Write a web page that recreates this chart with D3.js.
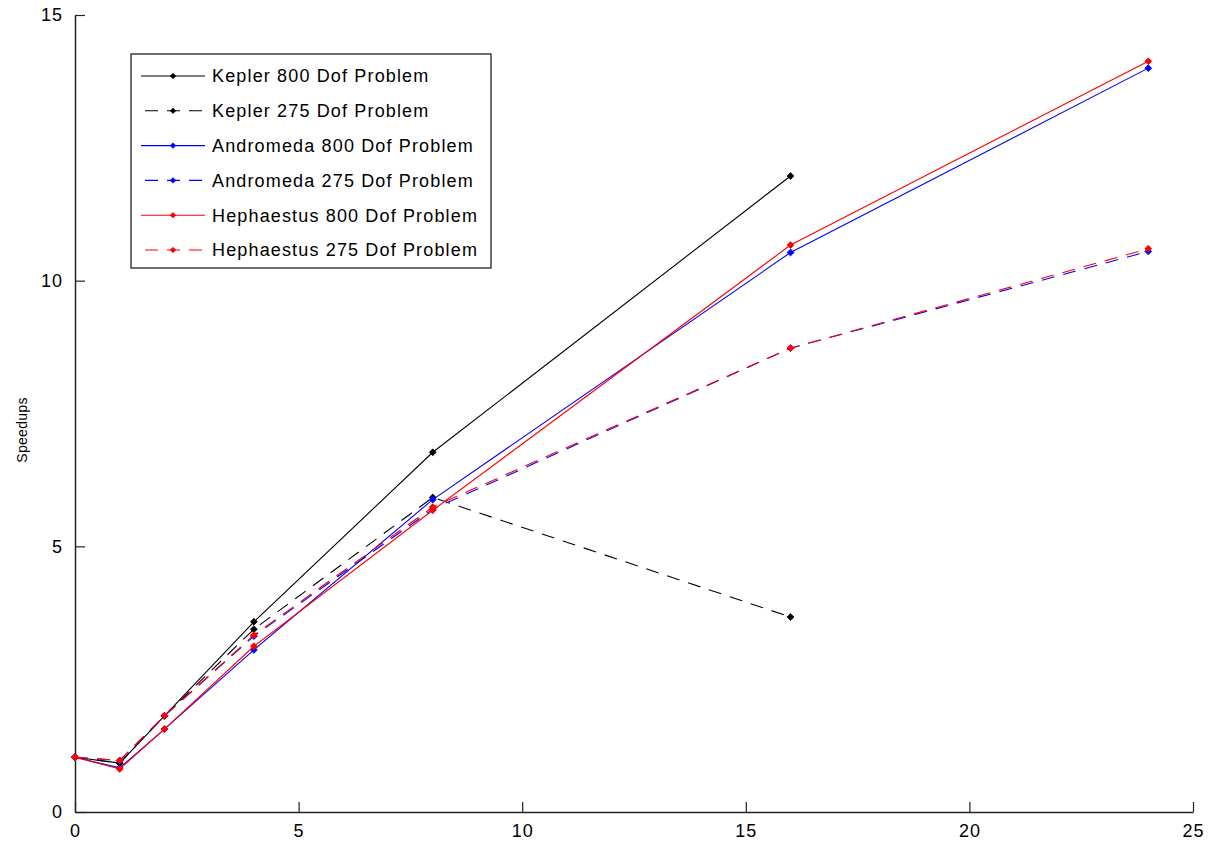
<!DOCTYPE html>
<html>
<head>
<meta charset="utf-8">
<script src="https://cdn.jsdelivr.net/npm/d3@7"></script>
<style>
  body { margin: 0; background: #fff; }
  text { font-family: "Liberation Sans", Arial, sans-serif; fill: #000; }
</style>
</head>
<body>
<div id="container"></div>
<script>
// processors used in the runs
let procsLong = [0, 1, 2, 4, 8, 16, 24];
let procsKepler = [0, 1, 2, 4, 8, 16];

// speedups
let kepler800 = [1.03, 0.92, 1.81, 3.58, 6.77, 11.97];
let kepler275 = [1.03, 0.92, 1.81, 3.44, 5.92, 3.67];
let andromeda800 = [1.03, 0.83, 1.56, 3.05, 5.88, 10.53, 14.0];
let andromeda275 = [1.03, 0.97, 1.81, 3.31, 5.70, 8.73, 10.55];
let hephaestus800 = [1.03, 0.81, 1.56, 3.12, 5.68, 10.67, 14.13];
let hephaestus275 = [1.03, 0.97, 1.81, 3.33, 5.74, 8.73, 10.60];

let seriesNames = [
  "Kepler 800 Dof Problem", "Kepler 275 Dof Problem",
  "Andromeda 800 Dof Problem", "Andromeda 275 Dof Problem",
  "Hephaestus 800 Dof Problem", "Hephaestus 275 Dof Problem"
];
let seriesValues = [kepler800, kepler275, andromeda800, andromeda275, hephaestus800, hephaestus275];
let seriesX = [procsKepler, procsKepler, procsLong, procsLong, procsLong, procsLong];
let seriesColors = ["#000000", "#000000", "#0000ff", "#0000ff", "#ff0000", "#ff0000"];
let seriesDashed = [false, true, false, true, false, true];

let xTicks = [0, 5, 10, 15, 20, 25];
let yTicks = [0, 5, 10, 15];

let w = 1209;
let h = 845;

let viz = d3.select("#container")
  .append("svg")
    .attr("width", w)
    .attr("height", h)
;

let xScale = d3.scaleLinear().domain([0, 25]).range([75, 1193]);
let yScale = d3.scaleLinear().domain([0, 15]).range([812, 15]);

// axes, matlab style: ticks pointing inward, no box
let xAxis = d3.axisBottom(xScale).tickValues(xTicks).tickSizeInner(-10).tickSizeOuter(0).tickPadding(17);
let yAxis = d3.axisLeft(yScale).tickValues(yTicks).tickSizeInner(-10).tickSizeOuter(0).tickPadding(12);

let xAxisGroup = viz.append("g")
    .attr("class", "xaxisgroup")
    .attr("transform", "translate(0," + yScale(0) + ")")
    .call(xAxis);
let yAxisGroup = viz.append("g")
    .attr("class", "yaxisgroup")
    .attr("transform", "translate(" + xScale(0) + ",0)")
    .call(yAxis);

viz.selectAll(".domain").attr("stroke", "#222").attr("stroke-width", 1.5);
viz.selectAll(".tick line").attr("stroke", "#222").attr("stroke-width", 1.2);
viz.selectAll(".tick text")
  .style("font-size", "18px")
  .style("letter-spacing", "1px")
  .style("font-family", "'Liberation Sans', Arial, sans-serif")
  .attr("fill", "#000");
xAxisGroup.selectAll(".tick text").attr("dy", "0.45em");

viz.append("text")
  .attr("transform", "translate(27,430) rotate(-90)")
  .attr("text-anchor", "middle")
  .style("font-size", "14px")
  .style("letter-spacing", "0.3px")
  .text("Speedups");

// lines
let graphGroup = viz.append("g").attr("class", "graphGroup");

let seriesData = seriesNames.map(function(name, i){
  return {
    name: name,
    color: seriesColors[i],
    dashed: seriesDashed[i],
    points: seriesValues[i].map(function(v, j){ return { x: seriesX[i][j], y: v }; })
  };
});

let lineMaker = d3.line()
  .x(function(d){ return xScale(d.x); })
  .y(function(d){ return yScale(d.y); })
;

let marker = d3.symbol().type(d3.symbolDiamond2).size(30);

seriesData.forEach(function(s){
  let g = graphGroup.append("g");
  g.append("path")
    .attr("d", lineMaker(s.points))
    .attr("fill", "none")
    .attr("stroke", s.color)
    .attr("stroke-width", 1.1)
    .attr("stroke-dasharray", s.dashed ? "13,9" : null);
  g.selectAll(".pt").data(s.points).enter()
    .append("path")
      .attr("class", "pt")
      .attr("d", marker)
      .attr("transform", function(d){ return "translate(" + xScale(d.x) + "," + yScale(d.y) + ")"; })
      .attr("fill", s.color)
      .attr("stroke", s.color)
      .attr("stroke-width", 0.8);
});

// legend
let legend = viz.append("g").attr("class", "legend").attr("transform", "translate(131,54)");
legend.append("rect")
  .attr("width", 360)
  .attr("height", 214)
  .attr("fill", "#fff")
  .attr("stroke", "#222")
  .attr("stroke-width", 1.3);

let legendRows = legend.selectAll(".row").data(seriesData).enter()
  .append("g")
    .attr("class", "row")
    .attr("transform", function(d, i){ return "translate(0," + (22 + i * 34.8) + ")"; });

legendRows.append("line")
  .attr("x1", function(d){ return d.dashed ? 14 : 10; })
  .attr("x2", 74)
  .attr("stroke", function(d){ return d.color; })
  .attr("stroke-width", 1.1)
  .attr("stroke-dasharray", function(d){ return d.dashed ? "13,9" : null; });
legendRows.append("path")
  .attr("d", d3.symbol().type(d3.symbolDiamond2).size(20))
  .attr("transform", "translate(42,0)")
  .attr("fill", function(d){ return d.color; })
  .attr("stroke", function(d){ return d.color; })
  .attr("stroke-width", 0.6);
legendRows.append("text")
  .attr("x", 81)
  .attr("dy", "0.36em")
  .style("font-size", "18px")
  .style("letter-spacing", "1.15px")
  .text(function(d){ return d.name; });
</script>
</body>
</html>
